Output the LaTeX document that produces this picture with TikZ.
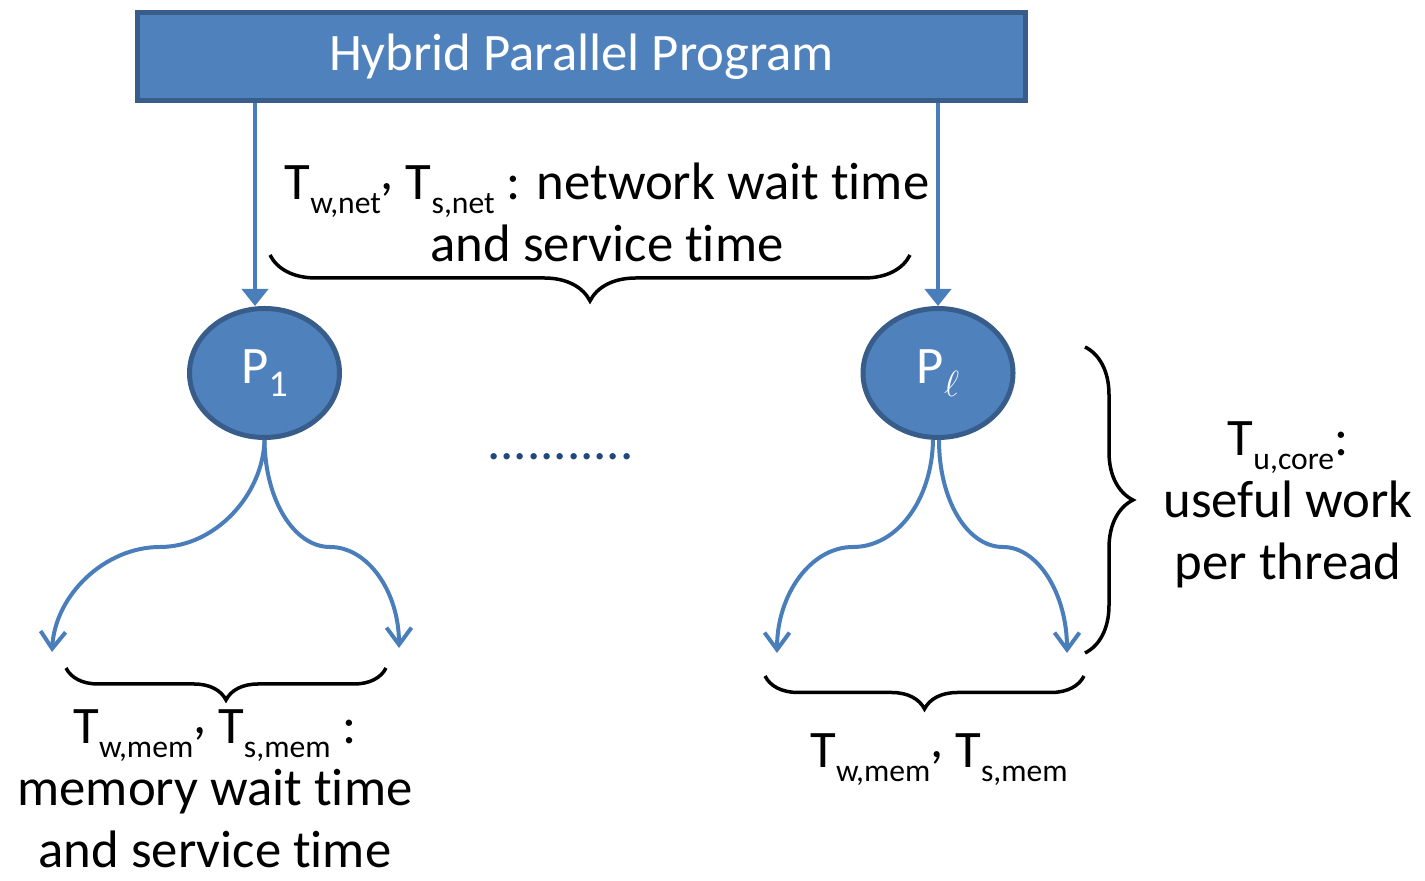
\documentclass[tikz,border=0pt]{standalone}
\usepackage{fontspec}
\setmainfont{Carlito}[Ligatures=CommonOff]
\usepackage{xcolor}
\usepackage{tikz}
\usetikzlibrary{arrows.meta,calc,shapes.geometric,decorations.pathreplacing}
\definecolor{boxblue}{RGB}{79,129,189}
\definecolor{boxrim}{RGB}{56,93,138}
\definecolor{linkblue}{RGB}{74,126,187}
\definecolor{dotblue}{RGB}{31,73,125}
\newcommand{\Tsub}[1]{T\raisebox{-0.26em}{\fontsize{18}{18}\selectfont #1}}
\newcommand{\upcomma}{\raisebox{0.2em}{,}}
\tikzset{
  banner/.style={draw=boxrim,line width=0.09cm,fill=boxblue,text=white,minimum width=17.76cm,minimum height=1.76cm,inner sep=0pt,font=\fontsize{30}{36}\selectfont},
  proc/.style={ellipse,draw=boxrim,line width=0.1cm,fill=boxblue,text=white,minimum width=3.0cm,minimum height=2.58cm,inner sep=0pt,font=\fontsize{30}{36}\selectfont},
  feed/.style={-{Triangle[length=0.34cm,width=0.52cm]},line width=0.08cm,draw=linkblue},
  fork/.style={-{Straight Barb[length=0.34cm,width=0.5cm]},line width=0.08cm,draw=linkblue},
  span/.style={decorate,decoration={brace,amplitude=#1},draw=black,line width=0.07cm},
  caption/.style={align=center,font=\fontsize{30}{35.3}\selectfont,inner sep=0pt}
}
\begin{document}
\begin{tikzpicture}[x=1cm,y=1cm]
  \useasboundingbox (0,0) rectangle (28.5,17.62);
  \node[banner] (prog) at (11.63,16.49) {Hybrid Parallel Program};
  \node[proc] (p1) at (5.29,10.16) {P\raisebox{-0.24em}{\fontsize{21.5}{21.5}\selectfont 1}};
  \node[proc] (pl) at (18.76,10.16) {P\raisebox{-0.24em}{\fontsize{21.5}{21.5}\selectfont $\ell$}};
  \draw[feed] ($(prog.south -| p1.north)+(-0.19,0)$) -- ($(p1.north)+(-0.19,0)$);
  \draw[feed] (prog.south -| pl.north) -- (pl.north);
  \node[caption,anchor=base] (net) at (12.14,12.38) {\Tsub{w,net}\upcomma{} \Tsub{s,net} : network wait time\\and service time};
  \draw[span=0.92cm] (18.20,12.52) -- (5.40,12.52);
  \node[font=\fontsize{30}{30}\selectfont,text=dotblue,anchor=base] (gap) at (11.21,8.42) {...........};
  \coordinate (p1a) at (1.04,4.58);
  \coordinate (p1b) at (7.98,4.66);
  \coordinate (pla) at (15.54,4.56);
  \coordinate (plb) at (21.34,4.56);
  \draw[fork] (p1.south) .. controls (5.26,7.72) and (4.30,6.68) .. (3.20,6.68) .. controls (2.10,6.68) and (1.10,5.72) .. (p1a);
  \draw[fork] (p1.south) .. controls (5.30,7.62) and (5.88,6.68) .. (6.60,6.68) .. controls (7.36,6.68) and (7.98,5.78) .. (p1b);
  \draw[fork] ([xshift=-0.1cm]pl.south) .. controls (18.64,7.62) and (17.94,6.68) .. (17.06,6.68) .. controls (16.22,6.68) and (15.54,5.74) .. (pla);
  \draw[fork] ([xshift=0.02cm]pl.south) .. controls (18.78,7.62) and (19.34,6.68) .. (20.06,6.68) .. controls (20.76,6.68) and (21.34,5.74) .. (plb);
  \draw[span=0.64cm] (7.72,4.26) -- (1.32,4.26);
  \node[caption,anchor=base] (mema) at (4.30,0.26) {\Tsub{w,mem}\upcomma{} \Tsub{s,mem} :\\memory wait time\\and service time};
  \draw[span=0.66cm] (21.68,4.10) -- (15.30,4.10);
  \node[caption,anchor=base] (memb) at (18.78,2.26) {\Tsub{w,mem}\upcomma{} \Tsub{s,mem}};
  \draw[span=0.96cm] (21.70,10.68) -- (21.70,4.56);
  \node[caption,anchor=base] (core) at (25.76,6.02) {\Tsub{u,core}:\\useful work\\per thread};
\end{tikzpicture}
\end{document}
